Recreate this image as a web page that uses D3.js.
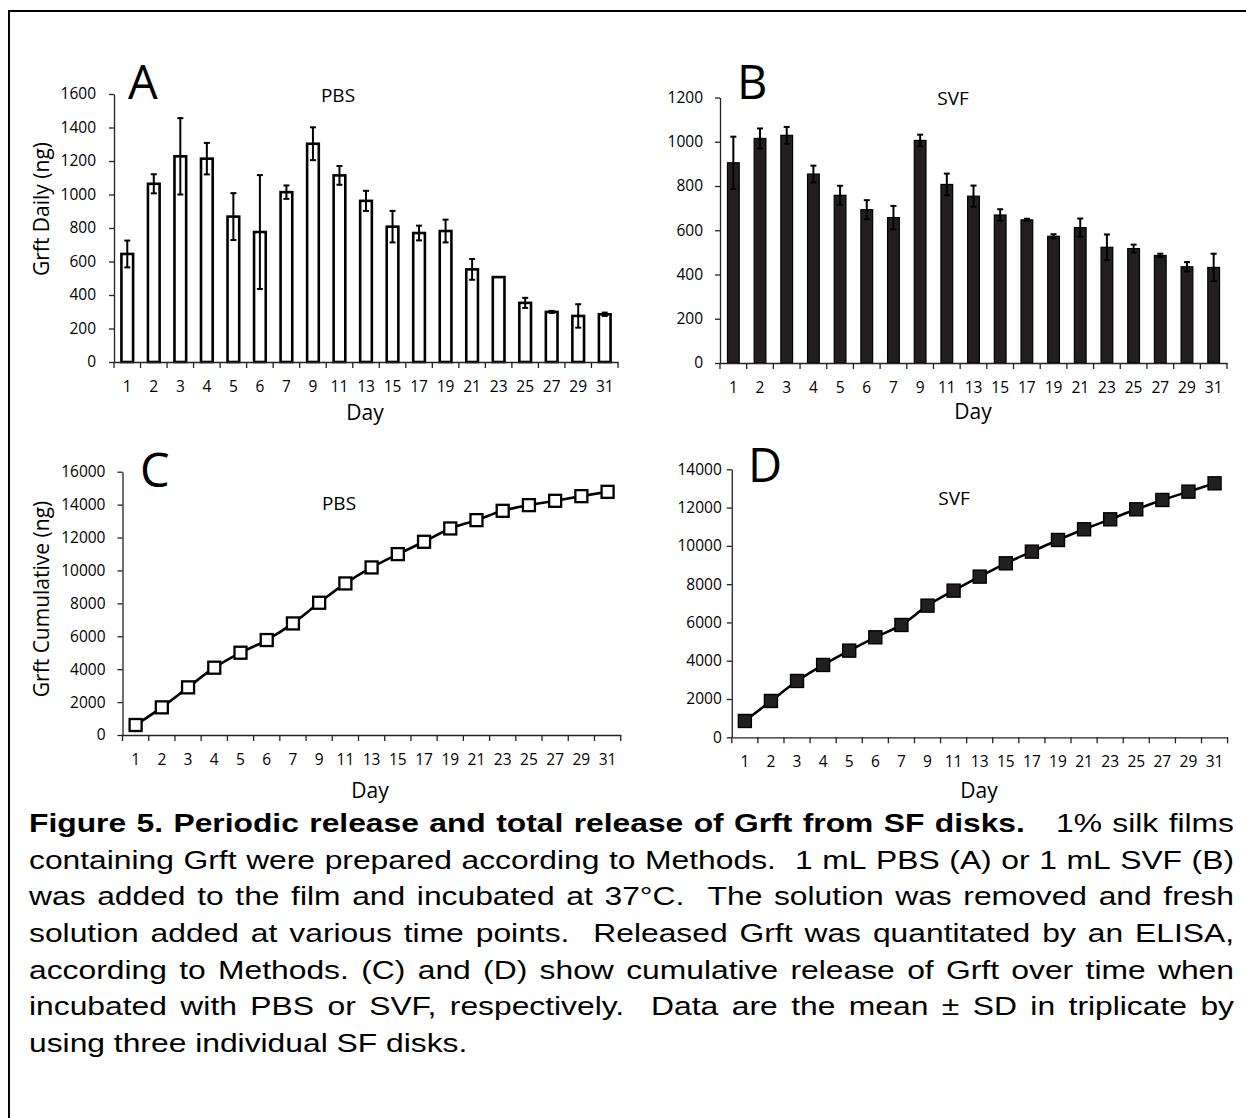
<!DOCTYPE html>
<html>
<head>
<meta charset="utf-8">
<script src="https://cdn.jsdelivr.net/npm/d3@7"></script>
<style>
  body { margin: 0; background: #fff; }
  svg { display: block; }
  .tick text { font-family: "Open Sans", sans-serif; font-size: 15.5px; fill: #000; }
  .ttl { font-family: "Open Sans", sans-serif; fill: #000; }
  .cap { font-family: "Liberation Sans", Arial, sans-serif; font-size: 26.5px; fill: #000; }
</style>
</head>
<body>
<svg id="fig"></svg>
<script>
// Data ////////////////////////////////////////////////////////////////
var days = [1, 2, 3, 4, 5, 6, 7, 9, 11, 13, 15, 17, 19, 21, 23, 25, 27, 29, 31];

var pbsDaily = [645, 1064, 1228, 1214, 868, 776, 1014, 1303, 1114, 962, 808, 770, 782, 553, 507, 353, 299, 275, 285];
var pbsSD    = [80, 57, 228, 94, 140, 340, 40, 98, 56, 60, 94, 44, 68, 62, 0, 30, 6, 70, 10];

var svfDaily = [905, 1015, 1029, 854, 758, 693, 657, 1006, 807, 754, 669, 647, 573, 612, 523, 517, 486, 435, 432];
var svfSD    = [118, 45, 38, 38, 43, 43, 53, 26, 49, 48, 26, 5, 9, 41, 58, 18, 8, 21, 62];

var pbsCum = [607, 1680, 2895, 4090, 5000, 5770, 6780, 8036, 9210, 10182, 10992, 11741, 12551, 13057, 13623, 13968, 14231, 14514, 14777];
var svfCum = [853, 1898, 2943, 3779, 4527, 5224, 5868, 6878, 7662, 8393, 9089, 9699, 10308, 10866, 11388, 11910, 12398, 12833, 13268];

var yTicksA = [0, 200, 400, 600, 800, 1000, 1200, 1400, 1600];
var yTicksB = [0, 200, 400, 600, 800, 1000, 1200];
var yTicksC = [0, 2000, 4000, 6000, 8000, 10000, 12000, 14000, 16000];
var yTicksD = [0, 2000, 4000, 6000, 8000, 10000, 12000, 14000];

var captionLines = [
    [["Figure 5. Periodic release and total release of Grft from SF disks.", true], ["   1% silk films", false]],
    [["containing Grft were prepared according to Methods.  1 mL PBS (A) or 1 mL SVF (B)", false]],
    [["was added to the film and incubated at 37°C.  The solution was removed and fresh", false]],
    [["solution added at various time points.  Released Grft was quantitated by an ELISA,", false]],
    [["according to Methods. (C) and (D) show cumulative release of Grft over time when", false]],
    [["incubated with PBS or SVF, respectively.  Data are the mean ± SD in triplicate by", false]],
    [["using three individual SF disks.", false]]
];

// Setup ///////////////////////////////////////////////////////////////
var W = 1246, H = 1118;
var svg = d3.select("#fig").attr("width", W).attr("height", H);

svg.append("rect").attr("width", W).attr("height", H).attr("fill", "#fff");

// frame (open at right/bottom)
svg.append("path")
    .attr("d", "M9,1118 L9,11 L1246,11")
    .attr("fill", "none")
    .attr("stroke", "#000")
    .attr("stroke-width", 2);

function makeX(p) {
    return d3.scaleBand().domain(days).range([p.left, p.right]).paddingInner(0.56).paddingOuter(0.28);
}

function drawAxes(p, x, y, ticks) {
    var g = svg.append("g");

    // y axis
    g.append("g")
        .attr("transform", "translate(" + p.left + ",0)")
        .call(d3.axisLeft(y).tickValues(ticks).tickFormat(d3.format("d"))
            .tickSize(5).tickSizeOuter(0).tickPadding(p.pad))
        .call(function(s) {
            s.select(".domain").attr("stroke", "#222").attr("stroke-width", 1.3);
            s.selectAll(".tick line").attr("stroke", "#222").attr("stroke-width", 1.3);
        });

    // x axis labels
    g.append("g")
        .attr("transform", "translate(0," + y(0) + ")")
        .call(d3.axisBottom(x).tickSize(0).tickPadding(19))
        .call(function(s) {
            s.select(".domain").attr("stroke", "#222").attr("stroke-width", 1.3);
        });

    // x tick marks at category boundaries
    var bounds = d3.range(days.length + 1).map(function(i) { return x.range()[0] + i * x.step() });
    g.selectAll(".btick")
        .data(bounds)
        .enter()
        .append("line")
            .attr("x1", function(d) { return d })
            .attr("x2", function(d) { return d })
            .attr("y1", y(0))
            .attr("y2", y(0) + 6)
            .attr("stroke", "#222")
            .attr("stroke-width", 1.3);

    // letter, title, x label
    g.append("text").attr("class", "ttl")
        .attr("x", p.letterX).attr("y", p.letterY)
        .style("font-size", "47px")
        .text(p.letter);
    g.append("text").attr("class", "ttl")
        .attr("x", p.titleX).attr("y", p.titleY)
        .attr("text-anchor", "middle")
        .style("font-size", "19px")
        .text(p.title);
    g.append("text").attr("class", "ttl")
        .attr("x", p.dayX).attr("y", p.dayY)
        .attr("text-anchor", "middle")
        .style("font-size", "21px")
        .text("Day");
    if (p.ylabel) {
        g.append("text").attr("class", "ttl")
            .attr("transform", "translate(" + p.ylabelX + "," + p.ylabelY + ") rotate(-90)")
            .attr("text-anchor", "middle")
            .attr("dy", "0.35em")
            .style("font-size", "21px")
            .text(p.ylabel);
    }
}

// Bar panels //////////////////////////////////////////////////////////
function barPanel(p, vals, sds, ticks, fill, sw) {
    var x = makeX(p);
    var y = d3.scaleLinear().domain([0, ticks[ticks.length - 1]]).range([p.bottom, p.top]);
    var rows = days.map(function(d, i) { return {day: d, v: vals[i], sd: sds[i]} });

    svg.append("g").selectAll("rect")
        .data(rows)
        .enter()
        .append("rect")
            .attr("x", function(d) { return x(d.day) })
            .attr("y", function(d) { return y(d.v) })
            .attr("width", x.bandwidth())
            .attr("height", function(d) { return y(0) - y(d.v) })
            .attr("fill", fill)
            .attr("stroke", "#000")
            .attr("stroke-width", sw);

    var eb = svg.append("g").selectAll("g")
        .data(rows.filter(function(d) { return d.sd > 0 }))
        .enter()
        .append("g")
            .attr("stroke", "#000")
            .attr("stroke-width", 2);
    eb.append("line")
        .attr("x1", function(d) { return x(d.day) + x.bandwidth() / 2 })
        .attr("x2", function(d) { return x(d.day) + x.bandwidth() / 2 })
        .attr("y1", function(d) { return y(d.v - d.sd) })
        .attr("y2", function(d) { return y(d.v + d.sd) });
    [1, -1].forEach(function(s) {
        eb.append("line")
            .attr("x1", function(d) { return x(d.day) + x.bandwidth() / 2 - 3 })
            .attr("x2", function(d) { return x(d.day) + x.bandwidth() / 2 + 3 })
            .attr("y1", function(d) { return y(d.v + s * d.sd) })
            .attr("y2", function(d) { return y(d.v + s * d.sd) });
    });

    drawAxes(p, x, y, ticks);
}

// Line panels /////////////////////////////////////////////////////////
function linePanel(p, vals, ticks, fill, sw, size) {
    var x = makeX(p);
    var y = d3.scaleLinear().domain([0, ticks[ticks.length - 1]]).range([p.bottom, p.top]);
    var rows = days.map(function(d, i) { return {day: d, v: vals[i]} });
    var cx = function(d) { return x(d.day) + x.bandwidth() / 2 };

    drawAxes(p, x, y, ticks);

    svg.append("path")
        .datum(rows)
        .attr("fill", "none")
        .attr("stroke", "#000")
        .attr("stroke-width", 2.6)
        .attr("d", d3.line().x(cx).y(function(d) { return y(d.v) }).curve(d3.curveMonotoneX));

    svg.append("g").selectAll("rect")
        .data(rows)
        .enter()
        .append("rect")
            .attr("x", function(d) { return cx(d) - size / 2 })
            .attr("y", function(d) { return y(d.v) - size / 2 })
            .attr("width", size)
            .attr("height", size)
            .attr("fill", fill)
            .attr("stroke", "#000")
            .attr("stroke-width", sw);
}

barPanel({left: 114, right: 618, top: 94, bottom: 362, pad: 13,
          letter: "A", letterX: 128, letterY: 99, title: "PBS", titleX: 338, titleY: 102,
          dayX: 365, dayY: 420, ylabel: "Grft Daily (ng)", ylabelX: 42, ylabelY: 209},
         pbsDaily, pbsSD, yTicksA, "#fff", 2.6);

barPanel({left: 720, right: 1227, top: 97.5, bottom: 363, pad: 12,
          letter: "B", letterX: 737, letterY: 99, title: "SVF", titleX: 953, titleY: 105,
          dayX: 973, dayY: 419},
         svfDaily, svfSD, yTicksB, "#231f20", 1.2);

linePanel({left: 122.5, right: 620.7, top: 471.7, bottom: 735, pad: 12,
           letter: "C", letterX: 140, letterY: 487, title: "PBS", titleX: 339, titleY: 510,
           dayX: 370, dayY: 798, ylabel: "Grft Cumulative (ng)", ylabelX: 42, ylabelY: 599},
          pbsCum, yTicksC, "#fff", 2.3, 12);

linePanel({left: 731.8, right: 1227.6, top: 469.3, bottom: 737.3, pad: 5,
           letter: "D", letterX: 748, letterY: 482, title: "SVF", titleX: 954, titleY: 505,
           dayX: 979, dayY: 798},
          svfCum, yTicksD, "#231f20", 1.4, 13);

// Caption (justified, glyphs slightly widened as in the source) ///////
var capLeft = 29, capRight = 1234, sx = 1.2, capTop = 832, lineH = 36.7;
var capG = svg.append("g").attr("transform", "translate(" + capLeft + ",0) scale(" + sx + ",1)");
var target = (capRight - capLeft) / sx;

function measure(txt, bold) {
    var t = capG.append("text").attr("class", "cap").style("font-weight", bold ? "bold" : "normal").text(txt);
    var w = t.node().getComputedTextLength();
    t.remove();
    return w;
}

captionLines.forEach(function(segs, li) {
    // words with their bold flag and number of spaces before them
    var words = [];
    segs.forEach(function(seg) {
        var re = /( *)([^ ]+)/g, m;
        while ((m = re.exec(seg[0])) !== null) {
            words.push({w: m[2], bold: seg[1], gap: words.length ? m[1].length : 0});
        }
    });
    words.forEach(function(d) { d.len = measure(d.w, d.bold) });
    var total = d3.sum(words, function(d) { return d.len });
    var spaces = d3.sum(words, function(d) { return d.gap });
    var last = li === captionLines.length - 1;
    var sp = last ? measure("a a", false) - measure("aa", false) : (target - total) / spaces;
    var xPos = 0;
    words.forEach(function(d) {
        xPos += d.gap * sp;
        capG.append("text").attr("class", "cap")
            .attr("x", xPos)
            .attr("y", capTop + li * lineH)
            .style("font-weight", d.bold ? "bold" : "normal")
            .text(d.w);
        xPos += d.len;
    });
});
</script>
</body>
</html>
